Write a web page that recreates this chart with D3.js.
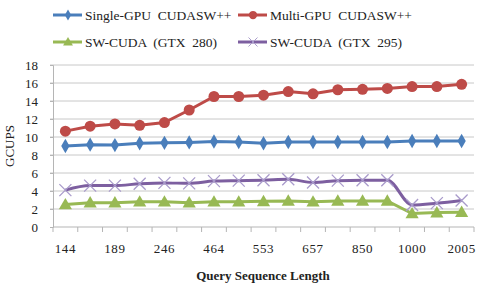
<!DOCTYPE html>
<html>
<head>
<meta charset="utf-8">
<script src="https://cdn.jsdelivr.net/npm/d3@7"></script>
<style>
  body { margin: 0; background: #fff; }
  svg text { font-family: "Liberation Serif", "DejaVu Serif", serif !important; fill: #222; }
</style>
</head>
<body>
<div id="chart"></div>
<script>
// query lengths (only every other one is labelled on the axis)
const queryLengths = ['144', '172', '189', '222', '246', '375', '464', '511', '553', '567', '657', '729', '850', '988', '1000', '1500', '2005'];
const shownLabels = ['144', '189', '246', '464', '553', '657', '850', '1000', '2005'];

const singleGpu = [9.0, 9.15, 9.1, 9.3, 9.35, 9.4, 9.5, 9.45, 9.3, 9.45, 9.45, 9.45, 9.45, 9.45, 9.55, 9.55, 9.55];
const multiGpu = [10.65, 11.2, 11.45, 11.3, 11.6, 13.0, 14.5, 14.5, 14.65, 15.05, 14.8, 15.25, 15.3, 15.4, 15.6, 15.6, 15.85];
const swCuda280 = [2.5, 2.7, 2.7, 2.8, 2.8, 2.7, 2.8, 2.8, 2.85, 2.9, 2.8, 2.9, 2.9, 2.9, 1.5, 1.6, 1.65];
const swCuda295 = [4.1, 4.6, 4.6, 4.8, 4.9, 4.85, 5.1, 5.15, 5.2, 5.3, 4.95, 5.15, 5.2, 5.2, 2.45, 2.65, 2.95];

const yTicks = [0, 2, 4, 6, 8, 10, 12, 14, 16, 18];

const series = [
  { name: 'Single-GPU  CUDASW++', values: singleGpu, color: '#4A7EBB', marker: 'diamond' },
  { name: 'Multi-GPU  CUDASW++', values: multiGpu, color: '#BE4B48', marker: 'circle' },
  { name: 'SW-CUDA  (GTX  280)', values: swCuda280, color: '#98B954', marker: 'triangle' },
  { name: 'SW-CUDA  (GTX  295)', values: swCuda295, color: '#7D5FA0', marker: 'cross' }
];

const width = 481, height = 288;
const margin = { left: 53, right: 7, top: 65, bottom: 61 };

const svg = d3.select('#chart').append('svg')
  .attr('width', width)
  .attr('height', height)
  .attr('font-family', '"Liberation Serif", serif');

const x = d3.scaleBand()
  .domain(queryLengths)
  .range([margin.left, width - margin.right]);

const y = d3.scaleLinear()
  .domain([0, 18])
  .range([height - margin.bottom, margin.top]);

// gridlines
svg.append('g')
  .selectAll('line')
  .data(yTicks.filter(d => d > 0))
  .enter().append('line')
  .attr('x1', margin.left - 3)
  .attr('x2', width - margin.right)
  .attr('y1', d => y(d))
  .attr('y2', d => y(d))
  .attr('stroke', '#c8c8c8')
  .attr('stroke-width', 1);

// y axis
const yAxis = svg.append('g')
  .attr('transform', `translate(${margin.left},0)`)
  .call(d3.axisLeft(y).tickValues(yTicks).tickSize(3).tickPadding(12));
yAxis.attr('font-family', null);
yAxis.select('.domain').attr('stroke', '#b5b5b5');
yAxis.selectAll('.tick line').attr('stroke', '#b5b5b5');
yAxis.selectAll('.tick text')
  .attr('font-size', 13)
  .attr('fill', '#222');

// x axis, ticks between the categories
const xAxisG = svg.append('g')
  .attr('transform', `translate(0,${y(0)})`);
xAxisG.append('line')
  .attr('x1', margin.left)
  .attr('x2', width - margin.right)
  .attr('stroke', '#b5b5b5');
xAxisG.selectAll('line.tk')
  .data(queryLengths)
  .enter().append('line')
  .attr('class', 'tk')
  .attr('x1', d => x(d))
  .attr('x2', d => x(d))
  .attr('y1', 0)
  .attr('y2', 5)
  .attr('stroke', '#b5b5b5');
xAxisG.append('line')
  .attr('x1', width - margin.right)
  .attr('x2', width - margin.right)
  .attr('y1', 0)
  .attr('y2', 5)
  .attr('stroke', '#b5b5b5');
xAxisG.selectAll('text')
  .data(shownLabels)
  .enter().append('text')
  .attr('x', d => x(d) + x.bandwidth() / 2)
  .attr('y', 26)
  .attr('text-anchor', 'middle')
  .attr('font-size', 13)
  .attr('letter-spacing', 0.6)
  .text(d => d);

// axis titles
svg.append('text')
  .attr('x', 263)
  .attr('y', 280)
  .attr('text-anchor', 'middle')
  .attr('font-size', 13)
  .attr('font-weight', 'bold')
  .text('Query Sequence Length');

svg.append('text')
  .attr('transform', 'translate(14,146) rotate(-90)')
  .attr('text-anchor', 'middle')
  .attr('font-size', 13)
  .text('GCUPS');

function drawMarker(g, type, color) {
  if (type === 'diamond') {
    g.append('path').attr('d', d3.symbol(d3.symbolDiamond, 60)()).attr('fill', color);
  } else if (type === 'circle') {
    g.append('circle').attr('r', 5.5).attr('fill', color);
  } else if (type === 'triangle') {
    g.append('path').attr('d', d3.symbol(d3.symbolTriangle, 75)()).attr('fill', color)
      .attr('transform', 'translate(0,1)');
  } else if (type === 'cross') {
    g.append('path').attr('d', 'M-6,-6L6,6M-6,6L6,-6')
      .attr('stroke', '#A99BCB').attr('stroke-width', 1.3).attr('fill', 'none');
  }
}

// lines
series.forEach(s => {
  const line = d3.line()
    .x((d, i) => x(queryLengths[i]) + x.bandwidth() / 2)
    .y(d => y(d))
    .curve(s.marker === 'cross' ? d3.curveMonotoneX : d3.curveLinear);

  svg.append('path')
    .datum(s.values)
    .attr('d', line)
    .attr('fill', 'none')
    .attr('stroke', s.color)
    .attr('stroke-width', 3);

  svg.append('g')
    .selectAll('g')
    .data(s.values)
    .enter().append('g')
    .attr('transform', (d, i) => `translate(${x(queryLengths[i]) + x.bandwidth() / 2},${y(d)})`)
    .each(function() { drawMarker(d3.select(this), s.marker, s.color); });
});

// legend
const legendPos = [[53, 15], [238, 15], [53, 42], [238, 42]];
series.forEach((s, i) => {
  const lg = svg.append('g')
    .attr('transform', `translate(${legendPos[i][0]},${legendPos[i][1]})`);
  lg.append('line')
    .attr('x1', 0).attr('x2', 29)
    .attr('stroke', s.color)
    .attr('stroke-width', 3);
  const m = lg.append('g').attr('transform', 'translate(15,0) scale(0.75)');
  drawMarker(m, s.marker, s.color);
  lg.append('text')
    .attr('x', 32)
    .attr('y', 5)
    .attr('font-size', 13.5)
    .attr('xml:space', 'preserve')
    .style('white-space', 'pre')
    .text(s.name);
});
</script>
</body>
</html>
